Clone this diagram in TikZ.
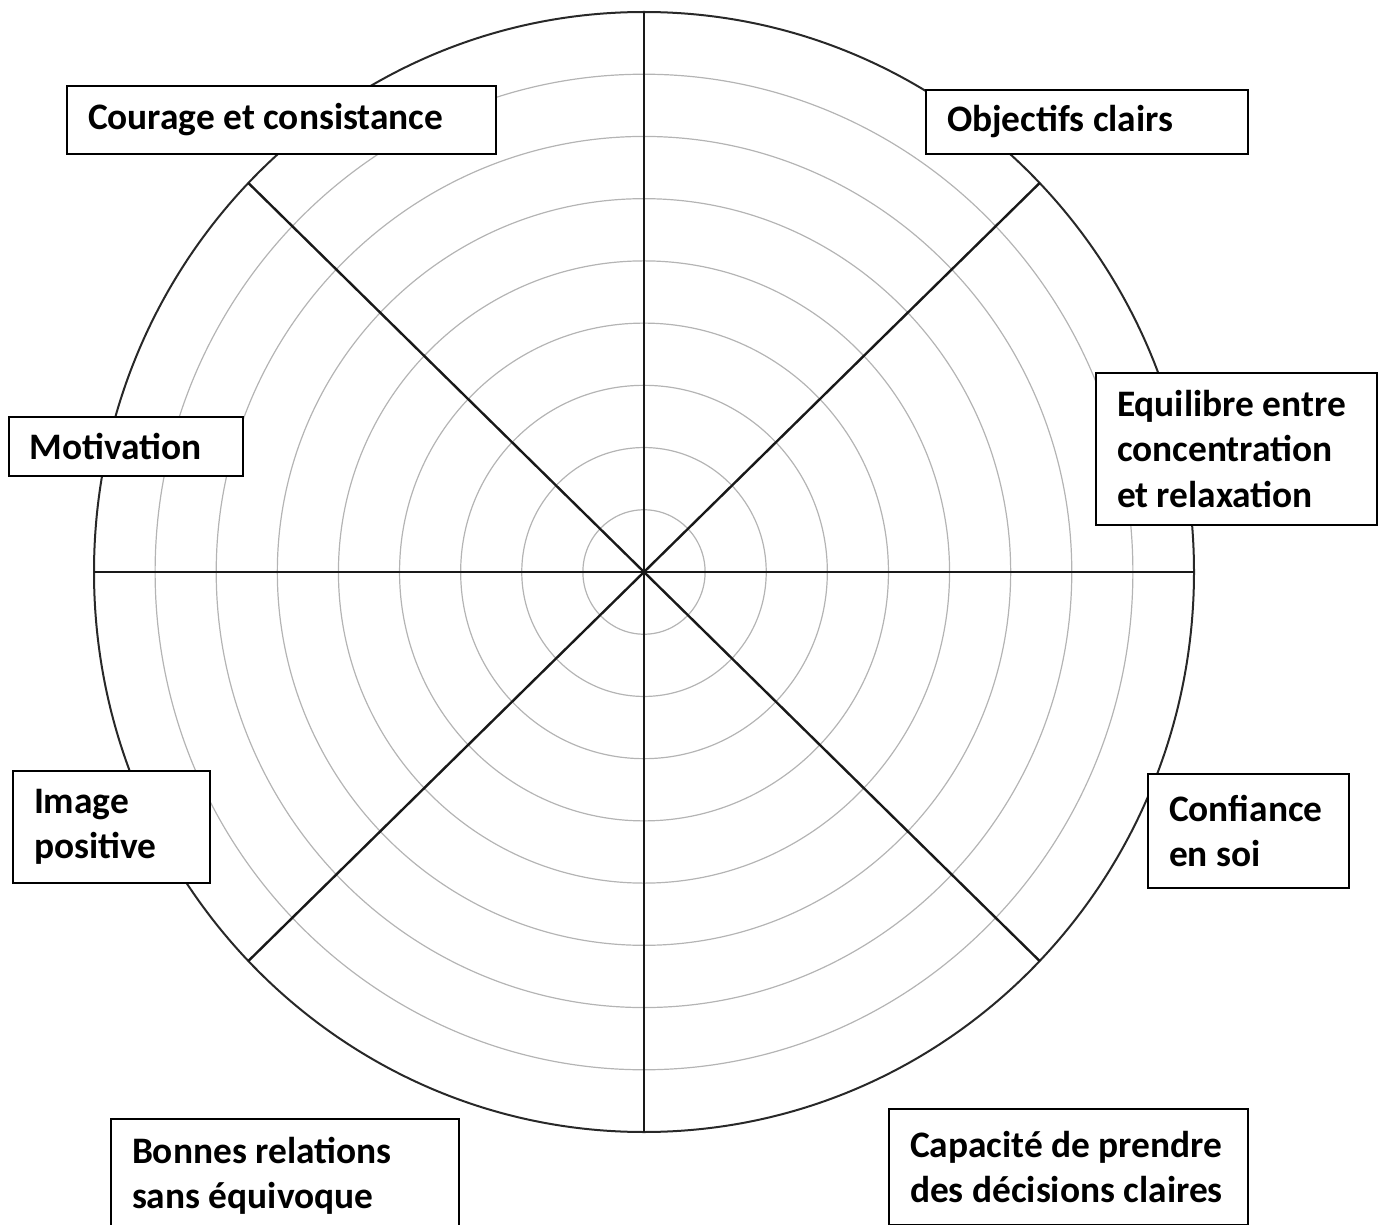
\documentclass[tikz,border=0pt]{standalone}
\usepackage{fontspec}
\setmainfont{Carlito}
\usetikzlibrary{calc}

\tikzset{every picture/.style={line width=0.75pt}}
\tikzset{
  ring/.style={draw={rgb,255:red,180;green,180;blue,180}, line width=0.6pt},
  rim/.style={draw={rgb,255:red,40;green,40;blue,40}, line width=1pt},
  spoke/.style={draw={rgb,255:red,25;green,25;blue,25}, line width=1.2pt},
  lbl/.style={draw, fill=white, line width=1pt, anchor=north west, align=flush left,
    inner xsep=10.5pt, inner ysep=0pt,
    font=\bfseries\fontsize{18.7}{22.7}\selectfont}
}

\begin{document}
\begin{tikzpicture}[x=0.5pt,y=-0.5pt]
\useasboundingbox (0,0) rectangle (1383,1225);
\clip (0,0) rectangle (1383,1225);

%Shape: Centre of the wheel
\coordinate (ctr) at (644,572);

%Shape: Rings
\foreach \k in {1,...,8}
  \draw [ring] (ctr) ellipse [x radius={550*\k/9}, y radius={560*\k/9}];

%Shape: Outer circle
\draw [rim] (ctr) ellipse [x radius=550, y radius=560];

%Straight Lines: Spokes
\foreach \a/\n in {0/e,44/ne,90/n,136/nw,180/w,224/sw,270/s,316/se}{
  \coordinate (sp-\n) at ($(ctr)+({550*cos(\a)},{-560*sin(\a)})$);
  \draw [spoke] (ctr) -- (sp-\n);
}

% Text Node
\node [lbl, text width=193.5pt, minimum height=34pt] (courage) at (66,85) {Courage et consistance};
% Text Node
\node [lbl, text width=140pt, minimum height=32pt] (objectifs) at (925,89) {Objectifs clairs};
% Text Node
\node [lbl, text width=119.5pt, minimum height=76pt] (equilibre) at (1095,372) {Equilibre entre\\concentration\\et relaxation};
% Text Node
\node [lbl, text width=96pt, minimum height=29.5pt] (motivation) at (8,416) {Motivation};
% Text Node
\node [lbl, text width=77.5pt, minimum height=56pt] (image) at (12,770) {Image\\positive};
% Text Node
\node [lbl, text width=79.5pt, minimum height=57pt] (confiance) at (1147,773) {Confiance\\en soi};
% Text Node
\node [lbl, text width=153pt, minimum height=57pt] (bonnes) at (110,1118) {Bonnes relations\\sans équivoque};
% Text Node
\node [lbl, text width=158.5pt, minimum height=58pt] (capacite) at (888,1108) {Capacité~de~prendre\\des~décisions~claires};

\end{tikzpicture}
\end{document}
